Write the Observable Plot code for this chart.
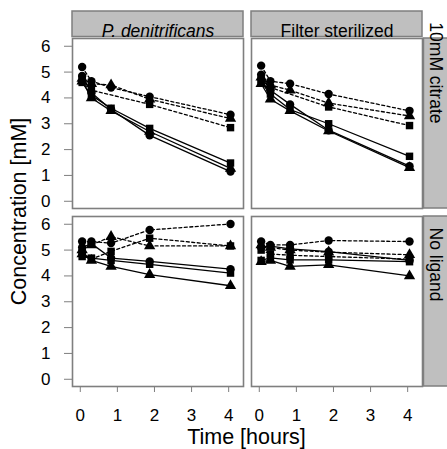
<!DOCTYPE html>
<html><head><meta charset="utf-8">
<script src="https://cdn.jsdelivr.net/npm/d3@7"></script>
<script src="https://cdn.jsdelivr.net/npm/@observablehq/plot@0.6"></script>
<style>body{margin:0;background:#fff}</style>
</head><body><div id="chart"></div>
<script>
// ---- data ----
const times = [0.05, 0.3, 0.83, 1.87, 4.05];
const treatments = ["P. denitrificans", "Filter sterilized"];
const conditions = ["10mM citrate", "No ligand"];
const shapes = ["circle", "square", "triangle"];
const lineTypes = ["solid", "dashed"];
const yTicks = [0, 1, 2, 3, 4, 5, 6];
const xTicks = [0, 1, 2, 3, 4];

// each: [circle, square, triangle] series, values at `times` (null = not measured)
const pdenCitrateSolid = [
  [4.85, 4.2, 3.55, 2.55, 1.15],
  [4.6, 4.1, 3.6, 2.82, 1.48],
  [4.65, 4.0, 3.5, 2.7, 1.27]
];
const pdenCitrateDashed = [
  [5.2, 4.65, 4.4, 4.05, 3.35],
  [4.7, 4.3, null, 3.75, 2.85],
  [4.75, 4.55, 4.5, 3.95, 3.2]
];
const filterCitrateSolid = [
  [4.9, 4.3, 3.75, 2.75, 1.36],
  [4.6, 4.15, 3.55, 3.0, 1.74],
  [4.55, 3.95, 3.5, 2.72, 1.3]
];
const filterCitrateDashed = [
  [5.25, 4.65, 4.55, 4.15, 3.5],
  [4.7, 4.4, null, 3.65, 2.93],
  [4.8, 4.5, 4.3, 3.8, 3.3]
];
const pdenNoneSolid = [
  [5.1, 5.25, 4.69, 4.56, 4.26],
  [4.75, 4.69, 4.6, 4.45, 4.11],
  [4.85, 4.6, 4.37, 4.05, 3.62]
];
const pdenNoneDashed = [
  [5.33, 5.33, 5.27, 5.78, 6.01],
  [4.9, 4.65, 4.95, 5.46, 5.16],
  [5.0, 5.2, 5.52, 5.16, 5.16]
];
const filterNoneSolid = [
  [5.1, 5.15, 5.05, 4.94, 4.6],
  [4.6, 4.7, 4.62, 4.62, 4.55],
  [4.55, 4.6, 4.37, 4.43, 4.0]
];
const filterNoneDashed = [
  [5.33, 5.2, 5.2, 5.37, 5.33],
  [5.0, 4.85, 4.8, 4.75, 4.65],
  [5.2, 5.1, 5.0, 4.92, 4.82]
];

const panels = [
  [treatments[0], conditions[0], lineTypes[0], pdenCitrateSolid],
  [treatments[0], conditions[0], lineTypes[1], pdenCitrateDashed],
  [treatments[1], conditions[0], lineTypes[0], filterCitrateSolid],
  [treatments[1], conditions[0], lineTypes[1], filterCitrateDashed],
  [treatments[0], conditions[1], lineTypes[0], pdenNoneSolid],
  [treatments[0], conditions[1], lineTypes[1], pdenNoneDashed],
  [treatments[1], conditions[1], lineTypes[0], filterNoneSolid],
  [treatments[1], conditions[1], lineTypes[1], filterNoneDashed]
];

const rows = [];
for (const [treatment, condition, lineType, series] of panels) {
  series.forEach((vals, si) => {
    vals.forEach((v, ti) => {
      if (v == null) return;
      rows.push({treatment, condition, lineType, shape: shapes[si],
        series: `${treatment}|${condition}|${lineType}|${shapes[si]}`,
        time: times[ti], value: v});
    });
  });
}

const topStrips = treatments.map(t => ({fx: t, fy: conditions[0]}));
const rightStrips = conditions.map(c => ({fx: treatments[1], fy: c}));

// ---- layout ----
const W = 447, H = 449, mL = 71, mR = 25, mT = 37, mB = 63, pad = 0.045;
const bwX = (W - mL - mR) / (2 - pad) * (1 - pad);
const bwY = (H - mT - mB) / (2 - pad) * (1 - pad);
const gray = "#7f7f7f", stripFill = "#bfbfbf";
const font = "'Liberation Sans', Arial, Helvetica, sans-serif";

const plot = Plot.plot({
  width: W, height: H,
  marginLeft: mL, marginRight: mR, marginTop: mT, marginBottom: mB,
  style: {fontFamily: font, fontSize: "17px", background: "#fff", color: "#000"},
  fx: {domain: treatments, paddingInner: pad, paddingOuter: 0, axis: null, label: null},
  fy: {domain: conditions, paddingInner: pad, paddingOuter: 0, axis: null, label: null},
  x: {domain: [-0.21, 4.4]},
  y: {domain: [-0.28, 6.3]},
  symbol: {domain: shapes, range: ["circle", "square", "triangle"]},
  marks: [
    Plot.frame({stroke: gray, strokeWidth: 1.6}),
    Plot.rect(topStrips, {fx: "fx", fy: "fy", fill: stripFill, stroke: gray, strokeWidth: 1.5,
      insetTop: -27, insetBottom: bwY + 1}),
    Plot.rect(rightStrips, {fx: "fx", fy: "fy", fill: stripFill, stroke: gray, strokeWidth: 1.5,
      insetRight: -26, insetLeft: bwX + 1}),
    Plot.text(topStrips.filter(d => d.fx === treatments[0]), {fx: "fx", fy: "fy", text: "fx",
      frameAnchor: "top", dy: -14, fontSize: 17.5, fontStyle: "italic", fill: "#000"}),
    Plot.text(topStrips.filter(d => d.fx !== treatments[0]), {fx: "fx", fy: "fy", text: "fx",
      frameAnchor: "top", dy: -14, fontSize: 17.5, fill: "#000"}),
    Plot.text(rightStrips, {fx: "fx", fy: "fy", text: "fy", frameAnchor: "right", dx: 13,
      rotate: 90, fontSize: 17.5, fill: "#000"}),
    Plot.line(rows.filter(d => d.lineType === "solid"), {fx: "treatment", fy: "condition",
      x: "time", y: "value", z: "series", stroke: "#000", strokeWidth: 1.3}),
    Plot.line(rows.filter(d => d.lineType === "dashed"), {fx: "treatment", fy: "condition",
      x: "time", y: "value", z: "series", stroke: "#000", strokeWidth: 1.3, strokeDasharray: "3,2.5"}),
    Plot.dot(rows, {fx: "treatment", fy: "condition", x: "time", y: "value",
      symbol: "shape", fill: "#000", stroke: "none", r: 4.2}),
    Plot.axisY({ticks: yTicks, tickFormat: d3.format("d"), tickSize: 8, tickPadding: 14,
      stroke: gray, label: null, fontSize: 17}),
    Plot.axisX({ticks: xTicks, tickFormat: d3.format("d"), tickSize: 6, tickPadding: 16,
      stroke: gray, label: null, fontSize: 17})
  ]
});

const svg = d3.select(plot);
svg.append("text")
  .attr("transform", `translate(18,${(mT + H - mB) / 2}) rotate(-90)`)
  .attr("text-anchor", "middle").attr("dy", "0.35em")
  .style("font-size", "21.5px").style("font-family", font).attr("fill", "#000")
  .text("Concentration [mM]");
svg.append("text")
  .attr("x", (mL + W - mR) / 2).attr("y", 443.5)
  .attr("text-anchor", "middle")
  .style("font-size", "21.5px").style("font-family", font).attr("fill", "#000")
  .text("Time [hours]");

document.getElementById("chart").appendChild(plot);
</script>
</body></html>
